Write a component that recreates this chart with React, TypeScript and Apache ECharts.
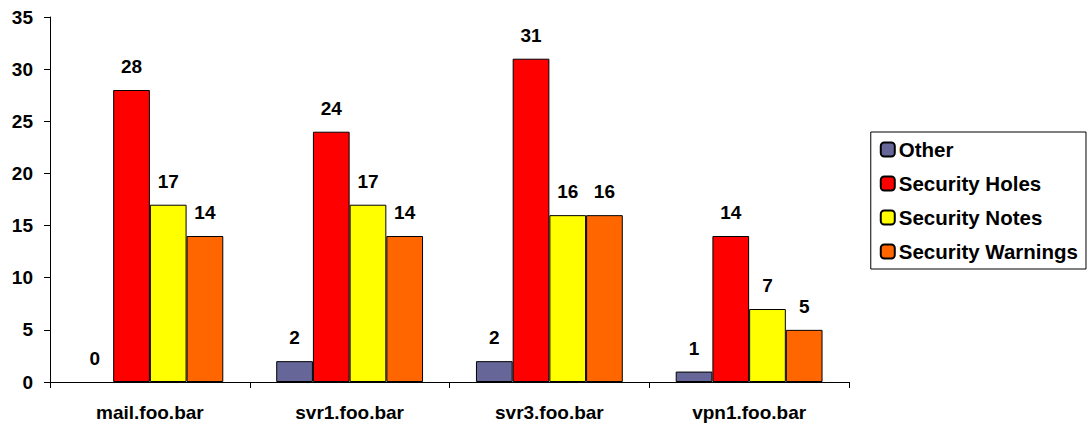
import React, { useEffect, useRef } from "react";
import * as echarts from "echarts";

const hosts = ["mail.foo.bar", "svr1.foo.bar", "svr3.foo.bar", "vpn1.foo.bar"];
const other = [0, 2, 2, 1];
const securityHoles = [28, 24, 31, 14];
const securityNotes = [17, 17, 16, 7];
const securityWarnings = [14, 14, 16, 5];

const FONT = "'Liberation Sans', Arial, Helvetica, sans-serif";

export default function App() {
  const ref = useRef<HTMLDivElement>(null);

  useEffect(() => {
    if (!ref.current) return;
    const chart = echarts.init(ref.current, null, { renderer: "svg" });

    // zero-height bars get no outline so no stray line sits on the axis
    const mk = (name: string, data: number[], color: string) => ({
      name,
      type: "bar" as const,
      data: data.map((v) => (v === 0 ? { value: v, itemStyle: { borderWidth: 0 } } : v)),
      barGap: "0%",
      barCategoryGap: "26.5%",
      itemStyle: { color, borderColor: "#000", borderWidth: 1 },
      label: {
        show: true,
        position: "top" as const,
        distance: 14,
        color: "#000",
        fontFamily: FONT,
        fontWeight: "bold" as const,
        fontSize: 19,
      },
    });

    chart.setOption({
      animation: false,
      backgroundColor: "#fff",
      textStyle: { fontFamily: FONT },
      grid: { left: 50, top: 17, right: 239, bottom: 45, containLabel: false },
      legend: {
        orient: "vertical",
        right: 2,
        top: 132,
        padding: [7, 8, 7, 9],
        itemWidth: 14,
        itemHeight: 14,
        itemGap: 13,
        borderColor: "#000",
        borderWidth: 1,
        textStyle: {
          fontFamily: FONT,
          fontWeight: "bold",
          fontSize: 20.5,
          color: "#000",
          padding: [0, 0, 0, -1],
        },
        data: ["Other", "Security Holes", "Security Notes", "Security Warnings"],
      },
      xAxis: {
        type: "category",
        data: hosts,
        axisLine: { lineStyle: { color: "#000" } },
        axisTick: { show: true, length: 6, lineStyle: { color: "#000" } },
        axisLabel: {
          color: "#000",
          fontFamily: FONT,
          fontWeight: "bold",
          fontSize: 19,
          margin: 21,
        },
      },
      yAxis: {
        type: "value",
        min: 0,
        max: 35,
        interval: 5,
        axisLine: { show: true, lineStyle: { color: "#000" } },
        axisTick: { show: true, length: 6, lineStyle: { color: "#000" } },
        splitLine: { show: false },
        axisLabel: {
          color: "#000",
          fontFamily: FONT,
          fontWeight: "bold",
          fontSize: 19,
          margin: 17,
        },
      },
      series: [
        mk("Other", other, "#666699"),
        mk("Security Holes", securityHoles, "#FF0000"),
        mk("Security Notes", securityNotes, "#FFFF00"),
        mk("Security Warnings", securityWarnings, "#FF6600"),
      ],
    });

    return () => chart.dispose();
  }, []);

  return (
    <div
      ref={ref}
      style={{ position: "fixed", left: 0, top: 0, width: 1088, height: 427 }}
    />
  );
}
